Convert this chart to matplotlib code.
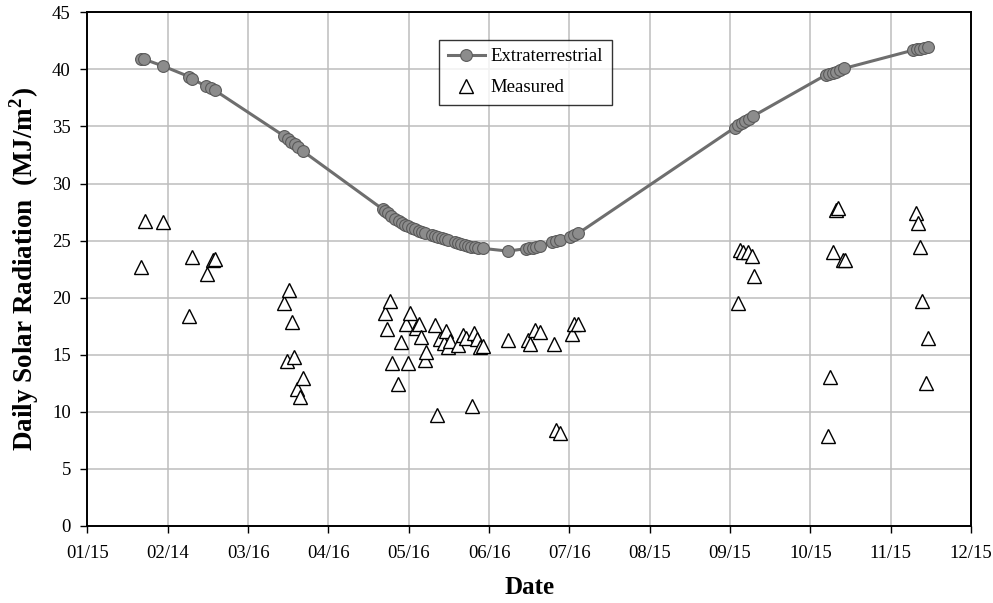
import numpy as np
import matplotlib
matplotlib.use("Agg")
import matplotlib.pyplot as plt

plt.rcParams['font.family'] = ['Liberation Serif', 'DejaVu Serif']
plt.rcParams['mathtext.fontset'] = 'custom'
plt.rcParams['mathtext.rm'] = 'Liberation Serif'
plt.rcParams['mathtext.bf'] = 'Liberation Serif:bold'

# day of year for extraterrestrial radiation (MJ/m2)
ext_day = [35.3, 36.3, 43.5, 53.6, 54.5, 59.7, 61.6, 63.1,
           89.3, 90.8, 92.1, 93.4, 94.6, 96.5,
           126.7, 127.5, 128.8, 130.0, 131.5, 132.8, 134.0, 135.2, 136.5, 137.8,
           139.0, 140.3, 141.5, 142.8, 145.3, 146.5, 147.8, 149.0, 150.3, 151.5,
           154.0, 155.3, 156.5, 157.8, 159.0, 160.3, 161.5, 162.8, 164.6,
           174.2, 181.1, 182.3, 183.5, 184.8, 186.1, 191.0, 192.3, 193.7,
           197.5, 199.0, 200.7,
           260.0, 261.3, 262.6, 263.9, 265.3, 266.9,
           294.4, 295.7, 297.0, 298.3, 299.8, 301.3,
           327.5, 328.9, 330.3, 331.7, 333.2]
ext_val = [40.9, 40.9, 40.3, 39.35, 39.2, 38.53, 38.33, 38.18,
           34.18, 33.9, 33.66, 33.42, 33.2, 32.84,
           27.76, 27.6, 27.38, 27.17, 26.93, 26.72, 26.55, 26.41, 26.27, 26.13,
           26.0, 25.88, 25.76, 25.65, 25.46, 25.38, 25.3, 25.22, 25.13, 25.04,
           24.86, 24.77, 24.68, 24.58, 24.5, 24.45, 24.4, 24.36, 24.32,
           24.08, 24.3, 24.32, 24.36, 24.42, 24.5, 24.9, 24.95, 25.04,
           25.33, 25.45, 25.63,
           34.9, 35.1, 35.3, 35.45, 35.65, 35.9,
           39.5, 39.6, 39.7, 39.8, 39.92, 40.08,
           41.68, 41.75, 41.82, 41.88, 41.97]

# measured daily radiation
meas_day = [35.3, 36.7, 43.7, 53.6, 54.4, 60.2, 62.4, 63.2,
            89.5, 90.5, 91.2, 92.5, 93.3, 94.3, 95.3, 96.5,
            127.7, 128.5, 129.6, 130.4, 132.4, 133.6, 135.7, 136.4, 137.2, 139.5,
            140.4, 141.4, 142.6, 143.2, 146.5, 147.3, 148.5, 149.8, 150.8, 151.6,
            152.1, 155.4, 157.1, 158.4, 160.5, 161.3, 162.4, 163.4, 164.7,
            174.2, 181.7, 182.4, 184.3, 186.1, 191.4, 192.2, 193.7, 198.4, 199.0, 200.6,
            261.2, 261.9, 263.1, 265.0, 266.5, 267.2,
            295.3, 296.2, 297.2, 298.2, 299.1, 300.8, 301.6,
            328.5, 329.4, 330.3, 331.0, 332.3, 333.2]
meas_val = [22.65, 26.7, 26.6, 18.4, 23.6, 22.07, 23.3, 23.4,
            19.55, 14.47, 20.67, 17.86, 14.77, 11.97, 11.32, 12.96,
            18.68, 17.25, 19.73, 14.25, 12.43, 16.11, 17.66, 14.25, 18.62, 17.37,
            17.66, 16.58, 14.54, 15.26, 17.57, 9.72, 16.4, 16.0, 17.07, 15.7,
            16.23, 15.82, 16.72, 16.43, 10.5, 16.93, 16.4, 15.7, 15.76,
            16.29, 16.29, 15.94, 17.16, 16.99, 15.94, 8.41, 8.12, 16.81, 17.69, 17.69,
            19.55, 24.17, 24.02, 24.02, 23.64, 21.89,
            7.88, 13.02, 24.02, 27.67, 27.82, 23.29, 23.29,
            27.38, 26.5, 24.4, 19.7, 12.5, 16.44]

tick_labels = ['01/15', '02/14', '03/16', '04/16', '05/16', '06/16',
               '07/16', '08/15', '09/15', '10/15', '11/15', '12/15']
tick_pos = [15 + 30.4 * k for k in range(len(tick_labels))]

fig = plt.figure(figsize=(9.93, 6.03), dpi=100)
ax = fig.add_axes([0.0881, 0.1277, 0.8897, 0.8519])

ax.plot(ext_day, ext_val, '-o', color='#6e6e6e', linewidth=2.2,
        markersize=8.5, markerfacecolor='#8c8c8c', markeredgecolor='#5a5a5a',
        markeredgewidth=0.8, label='Extraterrestrial', zorder=3)
ax.plot(meas_day, meas_val, '^', linestyle='none', markersize=10,
        markerfacecolor='white', markeredgecolor='black', markeredgewidth=1.0,
        label='Measured', zorder=4)

ax.set_xlim(tick_pos[0], tick_pos[-1])
ax.set_ylim(0, 45)
ax.set_xticks(tick_pos)
ax.set_xticklabels(tick_labels)
ax.set_yticks(range(0, 46, 5))
ax.tick_params(direction='out', length=5, width=1, labelsize=13.5, pad=7)
ax.tick_params(axis='x', pad=9)
ax.grid(True, color='#bdbdbd', linewidth=1.1, zorder=0)
ax.set_axisbelow(True)
for sp in ax.spines.values():
    sp.set_linewidth(1.4)

ax.set_xlabel('Date', fontsize=18, fontweight='bold', labelpad=10)
ax.set_ylabel('Daily Solar Radiation  (MJ/m$^{\\mathbf{2}}$)', fontsize=19.5,
              fontweight='bold', labelpad=8)

leg = ax.legend(loc='upper left', bbox_to_anchor=(0.398, 0.947), fontsize=13.5,
                frameon=True, fancybox=False, edgecolor='black',
                handlelength=2.0, handletextpad=0.3, labelspacing=0.75,
                borderpad=0.45, borderaxespad=0)
leg.get_frame().set_linewidth(1.0)

fig.savefig('out.png', dpi=100)
